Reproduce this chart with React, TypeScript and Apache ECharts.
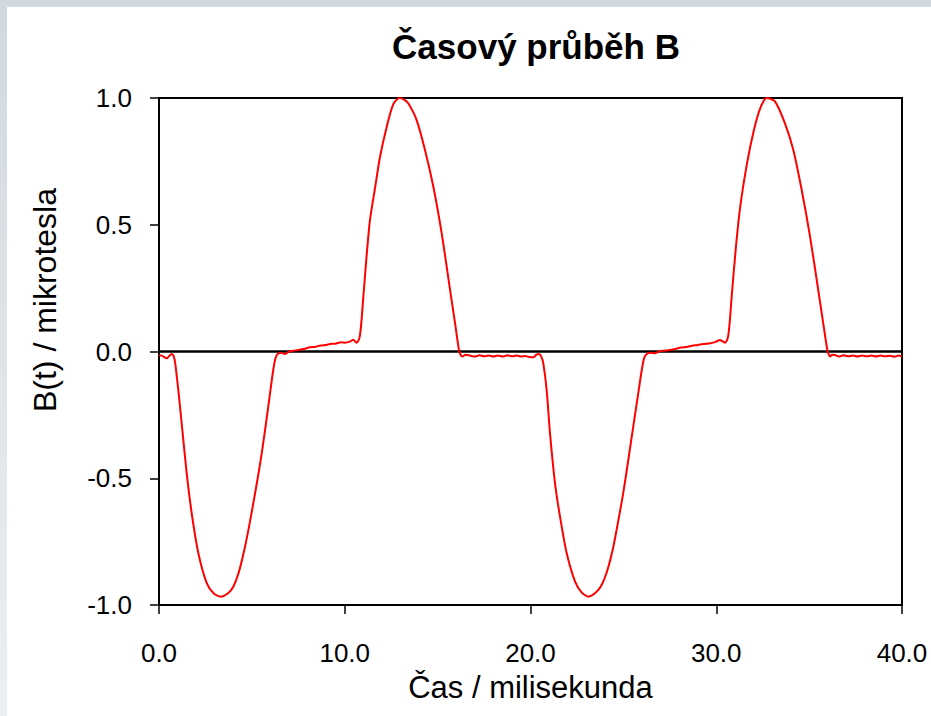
import React, { useEffect, useRef } from "react";
import * as echarts from "echarts";

const titleText = "Časový průběh B";
const xAxisName = "Čas / milisekunda";
const yAxisName = "B(t) / mikrotesla";

const xTicks = [0, 10, 20, 30, 40];
const yTicks = [-1, -0.5, 0, 0.5, 1];

// time in milliseconds
const timeMs = [
  0, 0.2, 0.41, 0.55, 0.68, 0.8, 0.88, 0.96, 1.04, 1.22, 1.49, 1.76, 2.12, 2.57, 2.95, 3.34, 3.7, 4.0, 4.3, 4.63,
  4.9, 5.17, 5.45, 5.71, 5.95, 6.15, 6.28, 6.39, 6.6, 6.78, 7.0, 7.23, 7.5, 7.8, 8.13, 8.4, 8.7, 9.0, 9.21, 9.5,
  9.8, 10.0, 10.28, 10.45, 10.64, 10.75, 10.82, 10.9, 11.0, 11.18, 11.36, 11.63, 11.9, 12.26, 12.61, 12.94, 13.2, 13.42, 13.87, 14.32,
  14.77, 15.22, 15.67, 15.94, 16.15, 16.25, 16.33, 16.5, 16.74, 17.0, 17.25, 17.5, 17.75, 18.0, 18.25, 18.5, 18.75, 19.0, 19.25, 19.5,
  19.7, 19.95, 20.15, 20.32, 20.46, 20.58, 20.69, 20.87, 21.05, 21.32, 21.59, 21.95, 22.4, 22.75, 23.11, 23.5, 23.83, 24.15, 24.46, 24.72,
  24.99, 25.26, 25.53, 25.77, 25.99, 26.12, 26.26, 26.45, 26.7, 26.9, 27.15, 27.5, 27.8, 28.1, 28.4, 28.7, 29.0, 29.3, 29.6, 29.93,
  30.2, 30.35, 30.47, 30.58, 30.65, 30.73, 30.83, 31.05, 31.28, 31.64, 32.0, 32.36, 32.72, 33.16, 33.7, 34.15, 34.6, 35.05, 35.49, 35.76,
  35.98, 36.06, 36.12, 36.25, 36.39, 36.6, 36.85, 37.1, 37.35, 37.6, 37.85, 38.1, 38.35, 38.6, 38.85, 39.1, 39.35, 39.6, 39.8, 40.0,
];

// B(t) in microtesla
const fieldMicroT = [
  -0.015, -0.018, -0.027, -0.018, -0.01, -0.02, -0.05, -0.1, -0.152, -0.283, -0.48, -0.638, -0.796, -0.914, -0.955, -0.967, -0.955, -0.928, -0.87, -0.77,
  -0.67, -0.56, -0.44, -0.31, -0.18, -0.073, -0.025, -0.01, -0.005, -0.01, 0.0, 0.003, 0.006, 0.01, 0.017, 0.018, 0.024, 0.026, 0.03, 0.031,
  0.036, 0.035, 0.039, 0.046, 0.035, 0.045, 0.065, 0.12, 0.216, 0.38, 0.52, 0.645, 0.768, 0.887, 0.975, 1.0, 0.994, 0.979, 0.913, 0.795,
  0.65, 0.466, 0.243, 0.111, 0.006, -0.015, -0.02, -0.013, -0.016, -0.02, -0.015, -0.019, -0.016, -0.02, -0.016, -0.02, -0.015, -0.019, -0.016, -0.02,
  -0.018, -0.022, -0.023, -0.012, -0.01, -0.02, -0.047, -0.152, -0.323, -0.52, -0.652, -0.796, -0.908, -0.95, -0.967, -0.952, -0.921, -0.86, -0.77, -0.67,
  -0.56, -0.43, -0.297, -0.18, -0.073, -0.025, -0.01, -0.005, -0.007, 0.0, 0.003, 0.006, 0.01, 0.016, 0.018, 0.023, 0.026, 0.03, 0.032, 0.037,
  0.045, 0.04, 0.035, 0.045, 0.065, 0.12, 0.216, 0.405, 0.565, 0.735, 0.865, 0.958, 1.0, 0.987, 0.9, 0.795, 0.637, 0.453, 0.243, 0.111,
  0.006, -0.012, -0.02, -0.013, -0.014, -0.02, -0.015, -0.019, -0.016, -0.02, -0.016, -0.019, -0.016, -0.02, -0.016, -0.019, -0.017, -0.021, -0.016, -0.02,
];

const FONT = "'Liberation Sans', Arial, Helvetica, sans-serif";

export default function App() {
  const ref = useRef<HTMLDivElement>(null);

  useEffect(() => {
    document.body.style.margin = "0";
    const chart = echarts.init(ref.current!, null, { renderer: "svg" });
    const data = timeMs.map((t, i) => [t, fieldMicroT[i]]);

    chart.setOption({
      animation: false,
      backgroundColor: "#ffffff",
      textStyle: { fontFamily: FONT },
      title: {
        text: titleText,
        left: 531,
        top: 24,
        textAlign: "center",
        textStyle: { fontFamily: FONT, fontSize: 35, fontWeight: "bold", color: "#000" },
      },
      graphic: [
        { type: "rect", left: 0, top: 0, shape: { width: 931, height: 7 }, style: { fill: "#d1d9df" }, silent: true },
        {
          type: "rect",
          left: 0,
          top: 0,
          shape: { width: 7, height: 716 },
          style: {
            fill: new echarts.graphic.LinearGradient(0, 0, 0, 1, [
              { offset: 0, color: "#d1d9df" },
              { offset: 1, color: "#eceff1" },
            ]),
          },
          silent: true,
        },
        {
          type: "text",
          x: 45,
          y: 300,
          rotation: Math.PI / 2,
          style: {
            text: yAxisName,
            fontFamily: FONT,
            fontSize: 32,
            fill: "#000",
            align: "center",
            verticalAlign: "middle",
          },
          silent: true,
        },
      ],
      grid: {
        left: 159,
        right: 29,
        top: 98,
        bottom: 111,
        show: true,
        borderColor: "#000",
        borderWidth: 2,
        backgroundColor: "transparent",
      },
      xAxis: {
        type: "value",
        min: xTicks[0],
        max: xTicks[xTicks.length - 1],
        interval: 10,
        name: xAxisName,
        nameLocation: "middle",
        nameGap: 67,
        nameTextStyle: { fontFamily: FONT, fontSize: 31, color: "#000" },
        axisLine: { show: true, onZero: false, lineStyle: { color: "#000", width: 2 } },
        axisTick: { show: true, length: 9, lineStyle: { color: "#000", width: 1.5 } },
        axisLabel: {
          fontFamily: FONT,
          fontSize: 26,
          color: "#000",
          margin: 35,
          formatter: (v: number) => v.toFixed(1),
        },
        splitLine: { show: false },
      },
      yAxis: {
        type: "value",
        min: yTicks[0],
        max: yTicks[yTicks.length - 1],
        interval: 0.5,
        axisLine: { show: true, onZero: false, lineStyle: { color: "#000", width: 2 } },
        axisTick: { show: true, length: 9, lineStyle: { color: "#000", width: 1.5 } },
        axisLabel: {
          fontFamily: FONT,
          fontSize: 26,
          color: "#000",
          margin: 27,
          formatter: (v: number) => v.toFixed(1),
        },
        splitLine: { show: false },
      },
      series: [
        {
          type: "line",
          data,
          showSymbol: false,
          smooth: 0.25,
          lineStyle: { color: "#ff0000", width: 2 },
          z: 3,
          markLine: {
            silent: true,
            symbol: "none",
            label: { show: false },
            lineStyle: { color: "#000", width: 2.5, type: "solid" },
            data: [{ yAxis: 0 }],
            z: 2,
          },
        },
      ],
    });

    return () => chart.dispose();
  }, []);

  return <div ref={ref} style={{ width: 931, height: 716 }} />;
}
